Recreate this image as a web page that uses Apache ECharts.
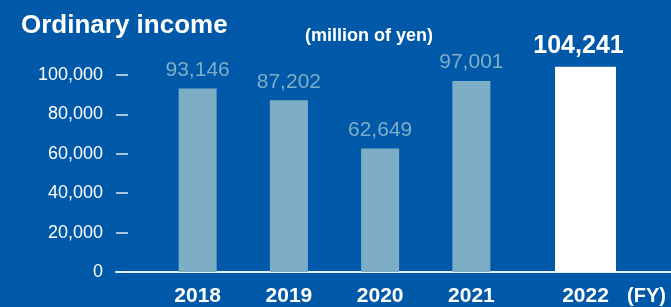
<!DOCTYPE html>
<html>
<head>
<meta charset="utf-8">
<script src="https://cdn.jsdelivr.net/npm/echarts@6/dist/echarts.min.js"></script>
<style>
  html, body { margin: 0; padding: 0; background: #0058a8; }
  #chart { width: 671px; height: 307px; }
</style>
</head>
<body>
<div id="chart"></div>
<script>
const years = ['2018', '2019', '2020', '2021']
const income = [93146, 87202, 62649, 97001]
const latestYear = ['2022']
const latestIncome = [104241]
const yTicks = [0, 20000, 40000, 60000, 80000, 100000]

const font = 'Liberation Sans, Arial, sans-serif'
const fmt = v => v.toLocaleString('en-US')

const myChart = echarts.init(document.getElementById('chart'))
myChart.setOption({
  backgroundColor: '#0058a8',
  animation: false,
  title: [
    {
      text: 'Ordinary income',
      left: 21,
      top: 13,
      padding: 0,
      textStyle: { color: '#fff', fontSize: 26, fontWeight: 'bold', fontFamily: font }
    },
    {
      text: '(million of yen)',
      left: 305,
      top: 27,
      padding: 0,
      textStyle: { color: '#fff', fontSize: 18, fontWeight: 'bold', fontFamily: font }
    },
    {
      text: '(FY)',
      left: 627,
      top: 286,
      padding: 0,
      textStyle: { color: '#fff', fontSize: 20, fontWeight: 'bold', fontFamily: font }
    }
  ],
  grid: [
    // frame: baseline + y ticks
    { left: 116, right: 0, top: 75, bottom: 35 },
    // 2018 - 2021
    { left: 152, width: 365, top: 75, bottom: 35 },
    // 2022
    { left: 500, right: 0, top: 75, bottom: 35 }
  ],
  xAxis: [
    {
      gridIndex: 0,
      type: 'value',
      min: 0,
      max: 1,
      axisLine: { show: true, lineStyle: { color: '#e8eef5', width: 2 } },
      axisTick: { show: false },
      axisLabel: { show: false },
      splitLine: { show: false }
    },
    {
      gridIndex: 1,
      type: 'category',
      data: years,
      axisLine: { show: false },
      axisTick: { show: false },
      axisLabel: { color: '#fff', fontSize: 21, fontWeight: 'bold', fontFamily: font, margin: 14 }
    },
    {
      gridIndex: 2,
      type: 'category',
      data: latestYear,
      axisLine: { show: false },
      axisTick: { show: false },
      axisLabel: { color: '#fff', fontSize: 21, fontWeight: 'bold', fontFamily: font, margin: 14 }
    }
  ],
  yAxis: [
    {
      gridIndex: 0,
      type: 'value',
      min: yTicks[0],
      max: yTicks[yTicks.length - 1],
      interval: yTicks[1] - yTicks[0],
      axisLine: { show: false },
      axisTick: { show: true, inside: true, length: 12, lineStyle: { color: '#dfe7f0', width: 1.5 } },
      axisLabel: {
        color: '#fff',
        fontSize: 18,
        fontFamily: font,
        margin: 13,
        formatter: v => fmt(v)
      },
      splitLine: { show: false }
    },
    { gridIndex: 1, type: 'value', min: 0, max: 100000, show: false },
    { gridIndex: 2, type: 'value', min: 0, max: 100000, show: false }
  ],
  series: [
    {
      name: 'Ordinary income',
      type: 'bar',
      xAxisIndex: 1,
      yAxisIndex: 1,
      barWidth: 38,
      clip: false,
      itemStyle: { color: '#7eaec6' },
      label: {
        show: true,
        position: 'top',
        distance: 8,
        color: '#7eaec6',
        fontSize: 21,
        fontFamily: font,
        formatter: p => fmt(p.value)
      },
      data: income
    },
    {
      name: 'Ordinary income 2022',
      type: 'bar',
      xAxisIndex: 2,
      yAxisIndex: 2,
      barWidth: 61,
      clip: false,
      itemStyle: { color: '#ffffff' },
      label: {
        show: true,
        position: 'top',
        distance: 8,
        offset: [-7, 0],
        color: '#fff',
        fontSize: 25,
        fontWeight: 'bold',
        fontFamily: font,
        formatter: p => fmt(p.value)
      },
      data: latestIncome
    }
  ]
})
</script>
</body>
</html>
